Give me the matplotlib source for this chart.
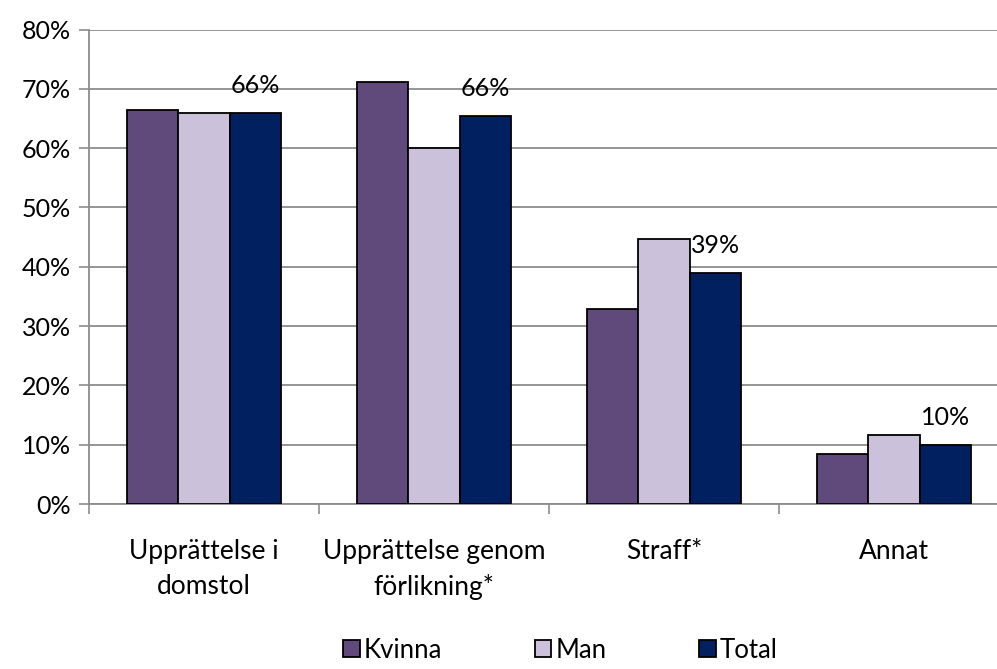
import matplotlib
matplotlib.use("Agg")
import matplotlib.pyplot as plt
import numpy as np

plt.rcParams['font.family'] = ['Lato', 'DejaVu Sans']

# data
categories = ['Upprättelse i\ndomstol', 'Upprättelse genom\nförlikning*', 'Straff*', 'Annat']
series_names = ['Kvinna', 'Man', 'Total']
kvinna = [66.5, 71.2, 32.8, 8.4]
man = [66.0, 60.1, 44.6, 11.7]
total = [66.0, 65.4, 38.9, 10.0]
total_labels = ['66%', '66%', '39%', '10%']
colors = ['#604A7B', '#CCC1DA', '#002060']

fig = plt.figure(figsize=(9.97, 6.69), dpi=100)
# axes runs a bit past the right edge, like in the original picture
ax = fig.add_axes([89 / 997, 165 / 669, 920 / 997, 474.5 / 669])

x = np.arange(len(categories))
w = 0.222
for i, (vals, c, name) in enumerate(zip([kvinna, man, total], colors, series_names)):
    ax.bar(x + (i - 1) * w, vals, w, color=c, edgecolor='black', linewidth=1.3,
           label=name, zorder=3)

# labels on total only
for xi, v, t in zip(x, total, total_labels):
    ax.text(xi + w, v + 2.7, t, ha='center', va='bottom', fontsize=18)

ax.set_xlim(-0.5, 3.5)
ax.set_ylim(0, 80)
ax.set_yticks(range(0, 81, 10))
ax.set_yticklabels([f'{v}%' for v in range(0, 81, 10)], fontsize=18)
ax.yaxis.grid(True, color='#8c8c8c', linewidth=1.3, zorder=0)

ax.set_xticks(x)
ax.set_xticklabels(categories, fontsize=19, linespacing=1.5)
ax.set_xticks(np.arange(-0.5, 4, 1), minor=True)
ax.tick_params(axis='x', which='major', length=0, pad=25)
ax.tick_params(axis='x', which='minor', length=7, width=1.2, color='#8c8c8c')
ax.tick_params(axis='y', length=7, width=1.2, color='#8c8c8c', pad=6)

for s in ['top', 'right']:
    ax.spines[s].set_visible(False)
for s in ['left', 'bottom']:
    ax.spines[s].set_color('#8c8c8c')
    ax.spines[s].set_linewidth(1.3)

fig.legend(loc='center', bbox_to_anchor=(0.562, 0.028), ncol=3, frameon=False,
           fontsize=18.5, handlelength=0.65, handleheight=0.65, handletextpad=0.15,
           columnspacing=3.6)

fig.savefig('out.png', dpi=100)
